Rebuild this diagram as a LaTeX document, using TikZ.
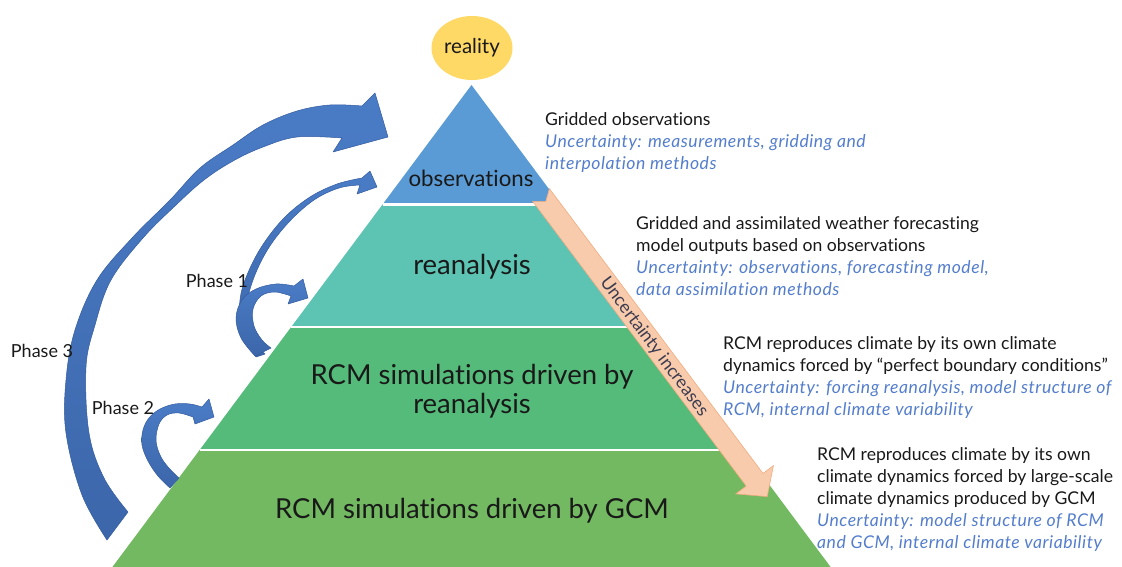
\documentclass[tikz,border=0pt]{standalone}
\usepackage{fontspec}
\setmainfont{Lato}[Ligatures=NoCommon, ItalicFeatures={LetterSpace=3}]
\usetikzlibrary{shapes.geometric}
\definecolor{obsblue}{RGB}{91,155,213}
\definecolor{reteal}{RGB}{93,196,180}
\definecolor{rcmgreen}{RGB}{85,187,122}
\definecolor{gcmgreen}{RGB}{114,185,98}
\definecolor{realyellow}{RGB}{255,217,102}
\definecolor{phasetop}{RGB}{74,124,198}
\definecolor{phasebottom}{RGB}{60,102,170}
\definecolor{phaseedge}{RGB}{52,92,160}
\definecolor{uncfill}{RGB}{248,203,173}
\definecolor{uncedge}{RGB}{240,170,125}
\definecolor{noteblue}{RGB}{84,126,204}
\definecolor{inkgray}{RGB}{25,25,25}
\definecolor{unctext}{RGB}{60,60,80}

\begin{document}
\begin{tikzpicture}[x=1pt,y=-1pt,
  phasearrow/.style={top color=phasetop, bottom color=phasebottom, draw=phaseedge, line width=0.5pt, line join=round},
  layerlabel/.style={inner sep=0pt, text=inkgray, align=center},
  note/.style={anchor=north west, inner sep=0pt, align=left, text=inkgray, font=\fontsize{17.6}{22}\selectfont},
  phaselabel/.style={inner sep=0pt, text=inkgray, font=\fontsize{18}{21}\selectfont},
  sep/.style={white, line width=2.2pt},
]
\useasboundingbox (0,0) rectangle (1122,567);

% pyramid layers
\fill[obsblue] (471.5,85) -- (560.5,204.5) -- (382.5,204.5) -- cycle;
\fill[reteal] (382.5,204.5) -- (560.5,204.5) -- (651.8,327) -- (291.2,327) -- cycle;
\fill[rcmgreen] (291.2,327) -- (651.8,327) -- (743.4,450) -- (199.6,450) -- cycle;
\fill[gcmgreen] (199.6,450) -- (743.4,450) -- (830.6,567) -- (112.4,567) -- cycle;
\draw[sep] (382.5,204.5) -- (560.5,204.5);
\draw[sep] (291.2,327) -- (651.8,327);
\draw[sep] (199.6,450) -- (743.4,450);

% top of the pyramid
\node[ellipse, fill=realyellow, minimum width=81pt, minimum height=64pt, inner sep=0pt,
      text=inkgray, font=\fontsize{20.5}{24}\selectfont] (reality) at (472,48) {reality};

% layer titles
\node[layerlabel, font=\fontsize{22.3}{26}\selectfont] (obs) at (471,178) {observations};
\node[layerlabel, font=\fontsize{27.5}{30}\selectfont] (rea) at (472,267) {reanalysis};
\node[layerlabel, font=\fontsize{27.5}{29}\selectfont] (rcmrea) at (472,391) {RCM simulations driven by\\reanalysis};
\node[layerlabel, font=\fontsize{27.5}{29}\selectfont] (rcmgcm) at (472,511) {RCM simulations driven by GCM};

% uncertainty arrow along the right flank
\begin{scope}[shift={(541,195)}, rotate=-53.13]
  \draw[fill=uncfill, draw=uncedge, line width=0.6pt]
    (0,10.5) -- (356,10.5) -- (356,23.5) -- (377,0) -- (356,-23.5) -- (356,-10.5) -- (0,-10.5) -- (8,0) -- cycle;
\end{scope}
\node[rotate=-53.13, inner sep=0pt, text=unctext, font=\fontsize{17.8}{20}\selectfont] (unc) at (654,347) {Uncertainty increases};

% phase arrows
\draw[phasearrow]
  plot[smooth, tension=0.6] coordinates {(107,540) (82,495) (66,433) (66,380) (75,330) (97,280) (132,238) (170,200) (200,168) (233,145) (263,125) (297,111) (330,105) (362,106)}
  -- (375,93) -- (388,137) -- (333,152)
  -- plot[smooth, tension=0.6] coordinates {(342,138) (297,137) (263,147) (233,161) (204,180) (176,205) (143,238) (111,280) (95,325) (86,367) (89,433) (104,478) (128,512)}
  -- cycle;
\draw[phasearrow]
  plot[smooth, tension=0.6] coordinates {(256,357) (241,330) (240,300) (247,275) (262,246) (284,218) (310,197) (337,184) (362,178)}
  -- (370,171) -- (377,187) -- (357,194)
  -- plot[smooth, tension=0.6] coordinates {(360,185) (339,188) (314,200) (289,222) (268,249) (253,280) (246,310) (250,336) (265,354)}
  -- cycle;
\draw[phasearrow]
  plot[smooth, tension=0.6] coordinates {(255,356) (241,338) (236,318) (242,300) (256,289) (276,284) (294,286)}
  -- (303,279) -- (308,298) -- (288,304)
  -- plot[smooth, tension=0.6] coordinates {(291,296) (275,292) (261,296) (253,309) (254,326) (262,340) (271,348)}
  -- cycle;
\draw[phasearrow]
  plot[smooth, tension=0.6] coordinates {(170,488) (158,476) (148,461) (142,445) (143,430) (149,418) (160,409) (175,404) (190,404) (202,407)}
  -- (209,399) -- (214,417) -- (195,424)
  -- plot[smooth, tension=0.6] coordinates {(193,417) (179,413) (167,415) (159,424) (156,440) (160,455) (168,467) (179,478)}
  -- cycle;

\node[phaselabel] (p1) at (217,281) {Phase 1};
\node[phaselabel] (p2) at (123,408) {Phase 2};
\node[phaselabel] (p3) at (42,351) {Phase 3};

% descriptions
\node[note] (n1) at (545,112) {Gridded observations\\
  \textcolor{noteblue}{\itshape Uncertainty: measurements, gridding and}\\
  \textcolor{noteblue}{\itshape interpolation methods}};
\node[note] (n2) at (636,216) {Gridded and assimilated weather forecasting\\
  model outputs based on observations\\
  \textcolor{noteblue}{\itshape Uncertainty: observations, forecasting model,}\\
  \textcolor{noteblue}{\itshape data assimilation methods}};
\node[note] (n3) at (723,336) {RCM reproduces climate by its own climate\\
  dynamics forced by “perfect boundary conditions”\\
  \textcolor{noteblue}{\itshape Uncertainty: forcing reanalysis, model structure of}\\
  \textcolor{noteblue}{\itshape RCM, internal climate variability}};
\node[note] (n4) at (817,447) {RCM reproduces climate by its own\\
  climate dynamics forced by large-scale\\
  climate dynamics produced by GCM\\
  \textcolor{noteblue}{\itshape Uncertainty: model structure of RCM}\\
  \textcolor{noteblue}{\itshape and GCM, internal climate variability}};
\end{tikzpicture}
\end{document}
